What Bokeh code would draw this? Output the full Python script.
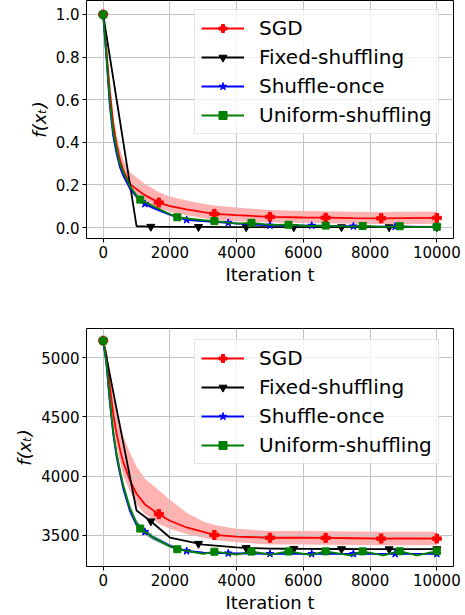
from bokeh.plotting import figure
from bokeh.layouts import column
from bokeh.models import Legend, LegendItem, Range1d, FixedTicker, PrintfTickFormatter
from bokeh.embed import file_html
from bokeh.resources import INLINE

# ---------------- data ----------------
x_ticks = [0, 2000, 4000, 6000, 8000, 10000]
top_y_ticks = [0.0, 0.2, 0.4, 0.6, 0.8, 1.0]
bot_y_ticks = [3500, 4000, 4500, 5000]
labels = ["SGD", "Fixed-shuffling", "Shuffle-once", "Uniform-shuffling"]

# SGD
sgd_t = [0, 100, 200, 300, 400, 500, 600, 800, 1000, 1250, 1667, 2000, 2500, 3000, 3333,
         4000, 5000, 6000, 6667, 7500, 8333, 9000, 10000]
sgd_mark = [0, 10, 14, 16, 18, 20, 22]
sgd_top = [1.0, 0.83, 0.64, 0.49, 0.39, 0.32, 0.27, 0.205, 0.18, 0.152, 0.117, 0.100, 0.085,
           0.072, 0.064, 0.058, 0.050, 0.047, 0.046, 0.044, 0.043, 0.044, 0.045]
sgd_top_hi = [1.0, 0.85, 0.67, 0.53, 0.43, 0.37, 0.32, 0.26, 0.235, 0.205, 0.166, 0.145, 0.127,
              0.112, 0.103, 0.094, 0.082, 0.077, 0.076, 0.074, 0.073, 0.074, 0.075]
sgd_top_lo = [1.0, 0.81, 0.61, 0.46, 0.36, 0.29, 0.24, 0.175, 0.143, 0.118, 0.089, 0.073, 0.058,
              0.043, 0.034, 0.029, 0.024, 0.021, 0.020, 0.018, 0.017, 0.017, 0.018]
sgd_bot = [5145, 5020, 4760, 4530, 4360, 4230, 4120, 3965, 3850, 3760, 3678, 3622, 3565, 3527,
           3502, 3488, 3478, 3478, 3477, 3474, 3471, 3472, 3471]
sgd_bot_hi = [5145, 5060, 4880, 4700, 4560, 4440, 4340, 4200, 4080, 3980, 3880, 3800, 3690, 3615,
              3585, 3555, 3535, 3535, 3534, 3531, 3528, 3529, 3528]
sgd_bot_lo = [5145, 4990, 4690, 4440, 4260, 4120, 4010, 3870, 3760, 3680, 3595, 3555, 3510, 3478,
              3460, 3440, 3421, 3421, 3420, 3417, 3414, 3415, 3414]

# Fixed-shuffling
fx_t = [0, 1000, 1429, 2000, 2857, 3000, 4000, 4286, 5000, 5714, 6000, 7000, 7143, 8000, 8571,
        9000, 10000]
fx_mark = [0, 2, 4, 7, 9, 12, 14, 16]
fx_top = [1.0, 0.006, 0.004, 0.003, 0.003, 0.003, 0.002, 0.002, 0.002, 0.002, 0.002, 0.002,
          0.002, 0.002, 0.002, 0.002, 0.002]
fx_bot = [5145, 3708, 3618, 3480, 3428, 3420, 3396, 3392, 3387, 3385, 3384, 3383, 3383, 3382,
          3382, 3382, 3382]

# Shuffle-once
so_t = [0, 100, 200, 300, 400, 500, 600, 800, 1000, 1250, 1500, 2000, 2500, 3000, 3750, 4500,
        5000, 6000, 6250, 7000, 7500, 8000, 8750, 9000, 10000]
so_mark = [0, 9, 12, 14, 16, 18, 20, 22, 24]
so_top = [1.0, 0.79, 0.57, 0.43, 0.35, 0.285, 0.245, 0.185, 0.145, 0.111, 0.092, 0.060, 0.036,
          0.030, 0.022, 0.014, 0.010, 0.009, 0.009, 0.007, 0.006, 0.005, 0.004, 0.004, 0.003]
so_top_sd = [0.0, 0.010, 0.015, 0.015, 0.015, 0.013, 0.012, 0.010, 0.009, 0.008, 0.007, 0.006,
             0.005, 0.004, 0.003, 0.003, 0.002, 0.002, 0.002, 0.002, 0.002, 0.002, 0.002, 0.002,
             0.002]
so_bot = [5145, 4940, 4620, 4360, 4170, 4030, 3900, 3710, 3590, 3528, 3480, 3410, 3366, 3352,
          3347, 3344, 3343, 3342, 3342, 3342, 3342, 3342, 3342, 3342, 3342]
so_bot_sd = [0, 30, 45, 50, 50, 45, 40, 35, 30, 25, 20, 15, 10, 8, 6, 5, 5, 5, 5, 5, 5, 5, 5, 5, 5]

# Uniform-shuffling
un_t = [0, 100, 200, 300, 400, 500, 600, 800, 1000, 1111, 1500, 2000, 2222, 3000, 3333, 4000,
        4444, 5000, 5556, 6200, 6667, 7400, 7778, 8400, 8889, 9400, 10000]
un_mark = [0, 9, 12, 14, 16, 18, 20, 22, 24, 26]
un_top = [1.0, 0.80, 0.59, 0.45, 0.37, 0.30, 0.26, 0.195, 0.150, 0.131, 0.100, 0.062, 0.048,
          0.034, 0.030, 0.018, 0.022, 0.012, 0.013, 0.007, 0.009, 0.004, 0.007, 0.003, 0.006,
          0.002, 0.004]
un_top_sd = [0.0, 0.010, 0.014, 0.014, 0.013, 0.012, 0.011, 0.010, 0.008, 0.007, 0.006, 0.005,
             0.004, 0.003, 0.003, 0.002, 0.002, 0.002, 0.002, 0.002, 0.002, 0.002, 0.002, 0.002,
             0.002, 0.002, 0.002]
un_bot = [5145, 4960, 4640, 4380, 4190, 4050, 3920, 3730, 3600, 3556, 3480, 3405, 3381, 3342,
          3360, 3335, 3361, 3335, 3362, 3333, 3363, 3330, 3363, 3330, 3364, 3330, 3364]
un_bot_sd = [0, 30, 45, 50, 50, 45, 40, 35, 30, 25, 20, 12, 10, 8, 6, 5, 5, 5, 5, 5, 5, 5, 5,
             5, 5, 5, 5]

colors = ["#ff0000", "#000000", "#0000ff", "#008000"]
markers = ["plus", "inverted_triangle", "star", "square"]
msizes = [9, 8, 8, 7]
FONT = "DejaVu Sans"


def style(p, yticks, yfmt):
    p.xaxis.ticker = FixedTicker(ticks=x_ticks)
    p.yaxis.ticker = FixedTicker(ticks=yticks)
    p.yaxis.formatter = PrintfTickFormatter(format=yfmt)
    for ax in (p.xaxis[0], p.yaxis[0]):
        ax.major_label_text_font = FONT
        ax.major_label_text_font_size = "15px"
        ax.major_label_text_color = "black"
        ax.axis_label_text_font = FONT
        ax.axis_label_text_font_size = "18px"
        ax.axis_label_text_color = "black"
        ax.major_tick_out = 4
        ax.major_tick_in = 0
        ax.minor_tick_out = 0
        ax.minor_tick_in = 0
        ax.major_tick_line_color = "black"
        ax.axis_line_color = None
        ax.major_label_standoff = 3
        ax.axis_label_standoff = 3
    p.xaxis.axis_label = "Iteration t"
    p.xaxis.axis_label_text_font_style = "normal"
    p.yaxis.axis_label = "f(xₜ)"
    p.yaxis.axis_label_text_font_style = "italic"
    p.grid.grid_line_color = "#c4c4c4"
    p.grid.grid_line_width = 1
    p.outline_line_color = "black"
    p.outline_line_width = 1
    p.background_fill_color = "white"


def add_series(p, t, y, lo, hi, mark, i):
    band = p.varea(x=t, y1=lo, y2=hi, fill_color=colors[i], fill_alpha=0.3)
    band.level = "image"
    ln = p.line(t, y, line_color=colors[i], line_width=1.8)
    mx = [t[k] for k in mark]
    my = [y[k] for k in mark]
    sc = p.scatter(mx, my, marker=markers[i], size=msizes[i], fill_color=colors[i],
                   line_color=colors[i])
    return LegendItem(label=labels[i], renderers=[ln, sc])


def add_legend(p, items, loc):
    leg = Legend(items=items, location=loc, margin=0, padding=6, spacing=5,
                 label_text_font=FONT, label_text_font_size="20px", label_text_color="black",
                 glyph_width=43, glyph_height=20, label_standoff=15, label_height=20,
                 border_line_color="#cccccc", border_line_width=1,
                 background_fill_color="white", background_fill_alpha=0.8)
    p.add_layout(leg)


# ---------------- top panel ----------------
p1 = figure(frame_width=367, frame_height=238, x_range=Range1d(-500, 10500),
            y_range=Range1d(-0.0516, 1.0657), output_backend="svg", toolbar_location=None,
            min_border_left=86, min_border_right=10, min_border_top=0, min_border_bottom=62)
style(p1, top_y_ticks, "%.1f")
items1 = [
    add_series(p1, sgd_t, sgd_top, sgd_top_lo, sgd_top_hi, sgd_mark, 0),
    add_series(p1, fx_t, fx_top, fx_top, fx_top, fx_mark, 1),
    add_series(p1, so_t, so_top, [a - b for a, b in zip(so_top, so_top_sd)],
               [a + b for a, b in zip(so_top, so_top_sd)], so_mark, 2),
    add_series(p1, un_t, un_top, [a - b for a, b in zip(un_top, un_top_sd)],
               [a + b for a, b in zip(un_top, un_top_sd)], un_mark, 3),
]
add_legend(p1, items1, (108, 104))

# ---------------- bottom panel ----------------
p2 = figure(frame_width=367, frame_height=238, x_range=Range1d(-500, 10500),
            y_range=Range1d(3235, 5248), output_backend="svg", toolbar_location=None,
            min_border_left=86, min_border_right=10, min_border_top=28, min_border_bottom=46)
style(p2, bot_y_ticks, "%d")
items2 = [
    add_series(p2, sgd_t, sgd_bot, sgd_bot_lo, sgd_bot_hi, sgd_mark, 0),
    add_series(p2, fx_t, fx_bot, fx_bot, fx_bot, fx_mark, 1),
    add_series(p2, so_t, so_bot, [a - b for a, b in zip(so_bot, so_bot_sd)],
               [a + b for a, b in zip(so_bot, so_bot_sd)], so_mark, 2),
    add_series(p2, un_t, un_bot, [a - b for a, b in zip(un_bot, un_bot_sd)],
               [a + b for a, b in zip(un_bot, un_bot_sd)], un_mark, 3),
]
add_legend(p2, items2, (108, 102))

layout = column(p1, p2, spacing=0)
open("out.html", "w").write(file_html(layout, INLINE))
